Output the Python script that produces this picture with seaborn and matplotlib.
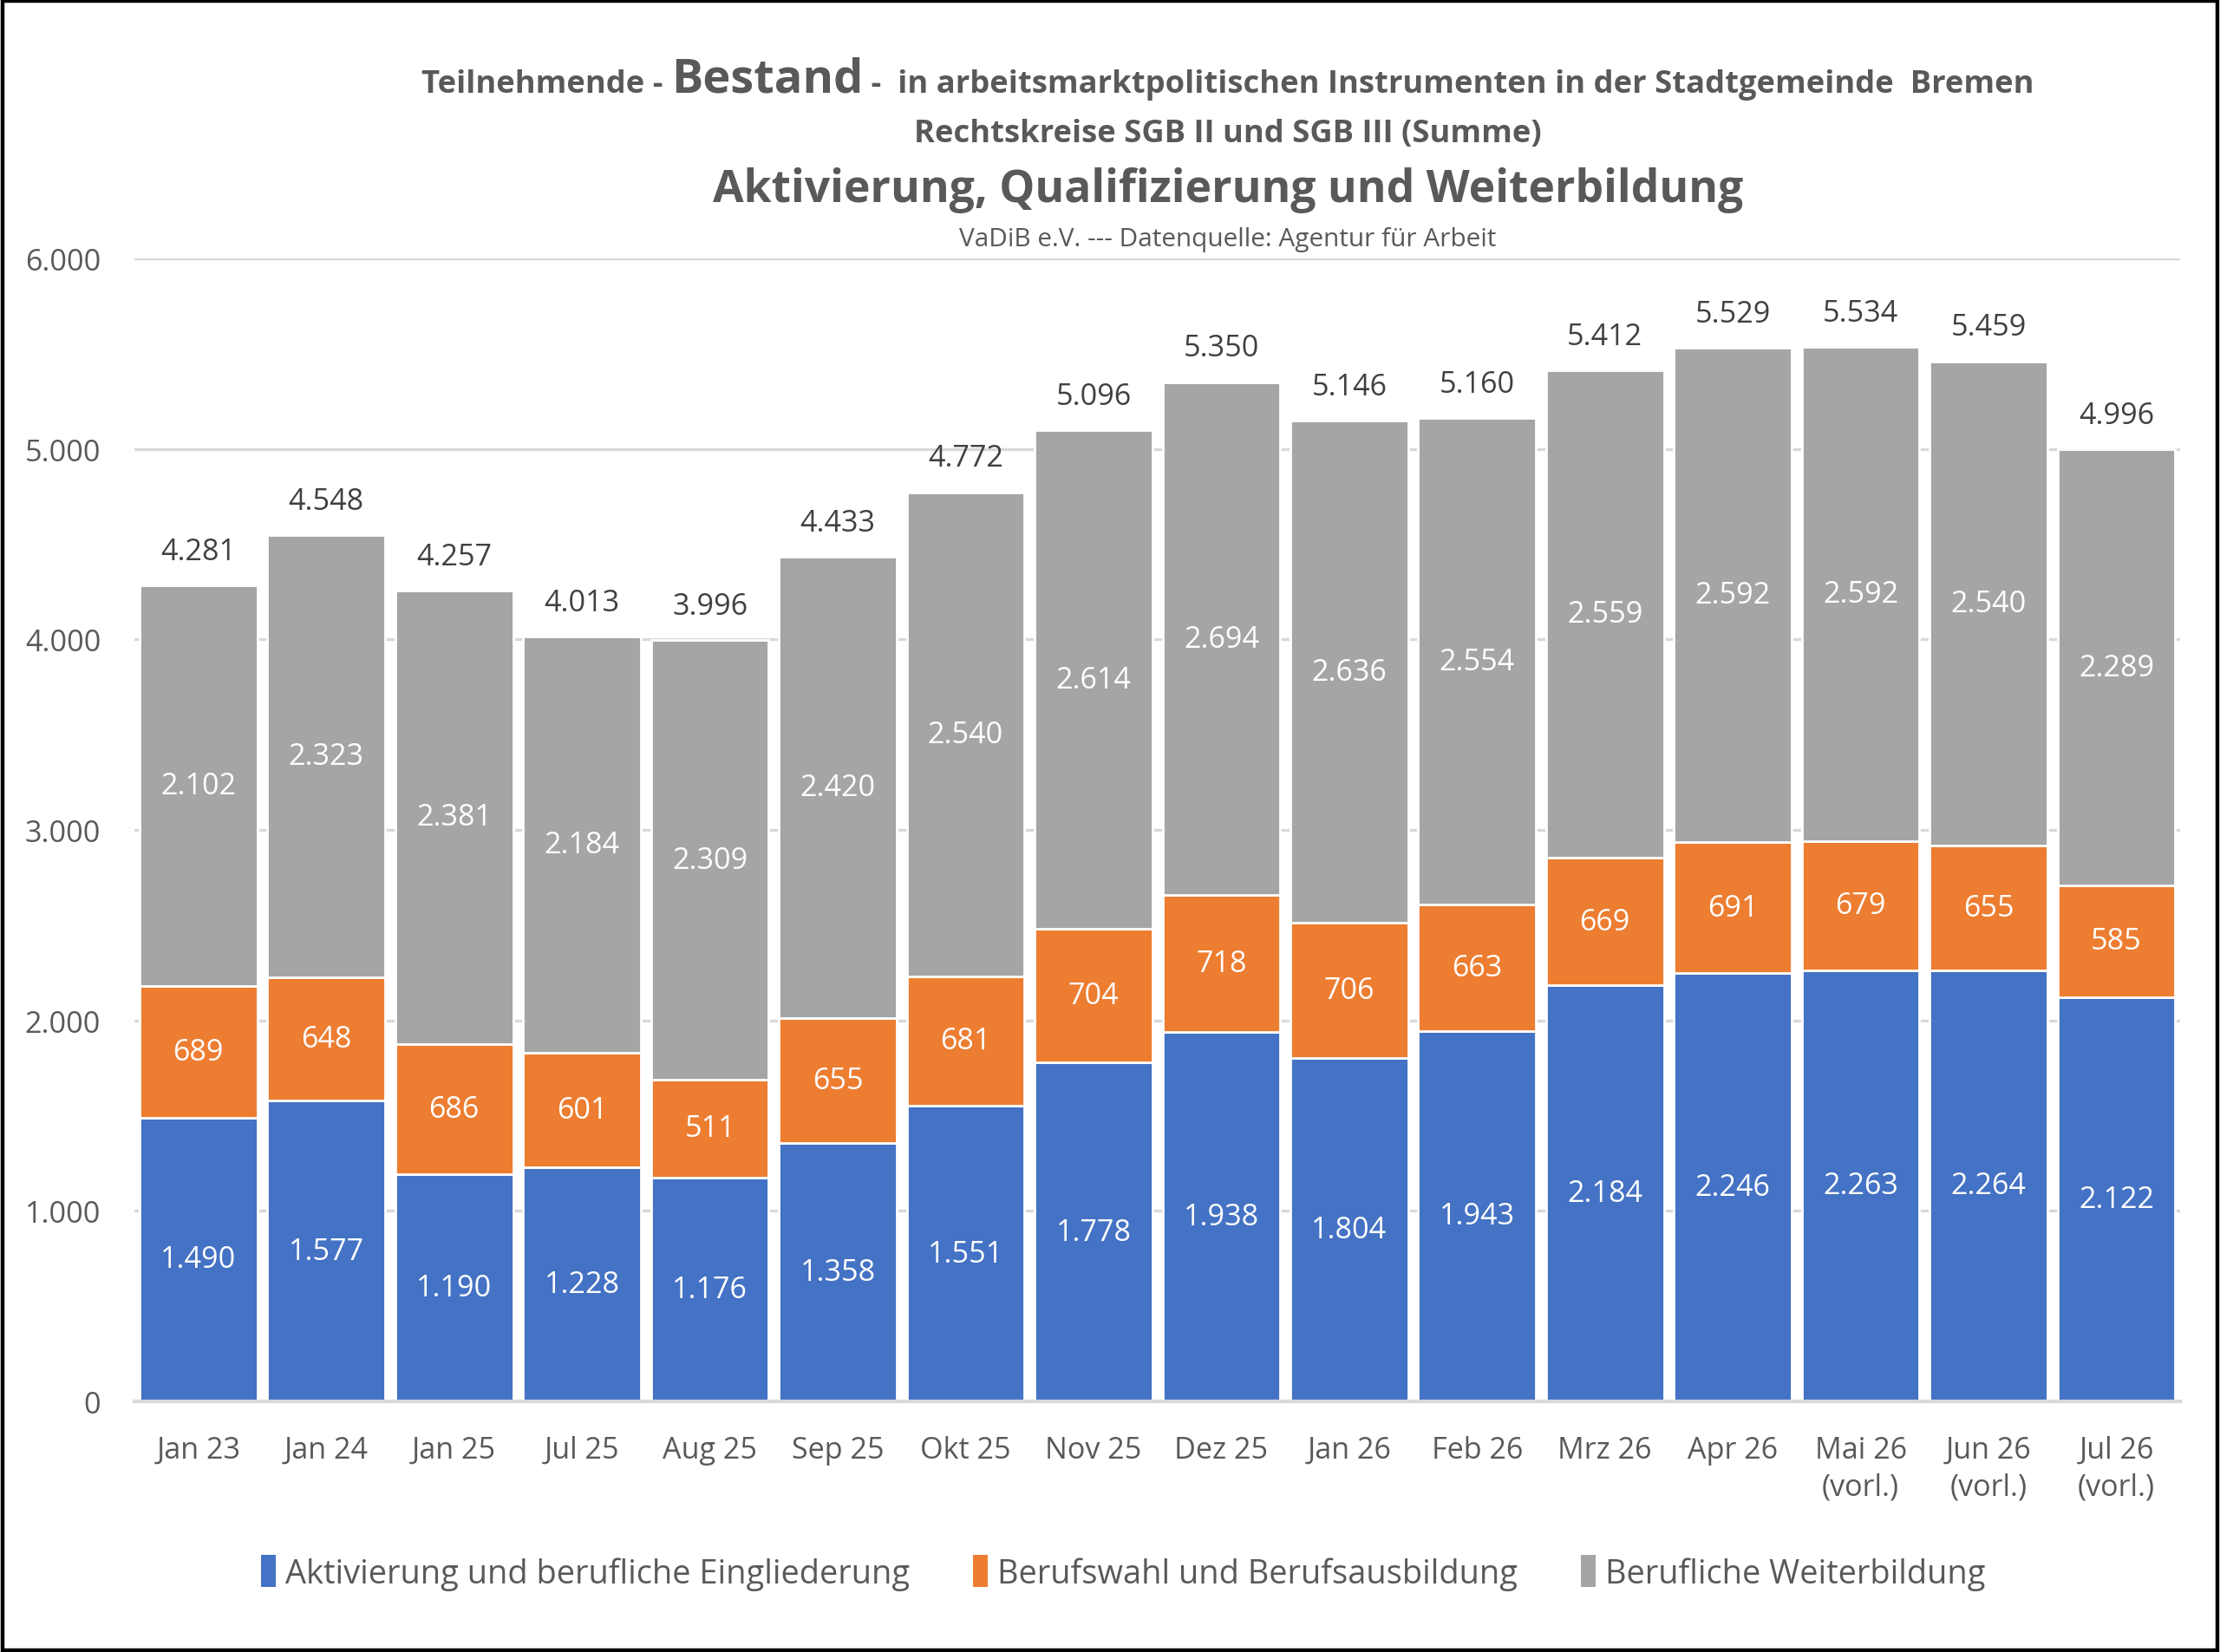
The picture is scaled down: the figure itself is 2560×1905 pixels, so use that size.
import numpy as np
import seaborn as sns
import matplotlib.pyplot as plt
from matplotlib.patches import Patch, Rectangle

months = ['Jan 23', 'Jan 24', 'Jan 25', 'Jul 25', 'Aug 25', 'Sep 25', 'Okt 25', 'Nov 25',
          'Dez 25', 'Jan 26', 'Feb 26', 'Mrz 26', 'Apr 26', 'Mai 26\n(vorl.)',
          'Jun 26\n(vorl.)', 'Jul 26\n(vorl.)']
aktivierung = [1490, 1577, 1190, 1228, 1176, 1358, 1551, 1778, 1938, 1804, 1943, 2184, 2246, 2263, 2264, 2122]
berufswahl = [689, 648, 686, 601, 511, 655, 681, 704, 718, 706, 663, 669, 691, 679, 655, 585]
weiterbildung = [2102, 2323, 2381, 2184, 2309, 2420, 2540, 2614, 2694, 2636, 2554, 2559, 2592, 2592, 2540, 2289]
series_names = ['Aktivierung und berufliche Eingliederung', 'Berufswahl und Berufsausbildung',
                'Berufliche Weiterbildung']
colors = ['#4472C4', '#ED7D31', '#A5A5A5']

sns.set_theme(style='white')
plt.rcParams['font.family'] = ['Open Sans', 'DejaVu Sans']
txt = '#595959'


def de(v):
    return f'{int(round(v)):,}'.replace(',', '.')


fig = plt.figure(figsize=(12.8, 9.53), dpi=200)
ax = fig.add_axes([0.0606, 0.1517, 0.9215, 0.6915])

bottom = np.zeros(len(months))
for vals, col, name in zip([aktivierung, berufswahl, weiterbildung], colors, series_names):
    sns.barplot(x=months, y=vals, bottom=bottom.copy(), color=col, width=0.92,
                saturation=1, ax=ax, label=name)
    bottom += np.array(vals)

for cont in ax.containers:
    ax.bar_label(cont, labels=[de(b.get_height()) for b in cont], label_type='center',
                 color='white', fontsize=12.3)

totals = bottom
for i, t in enumerate(totals):
    ax.annotate(de(t), (i, t), xytext=(0, 8), textcoords='offset points', ha='center',
                va='bottom', fontsize=12.3, color='#404040')

ax.set_ylim(0, 6000)
ax.set_xlim(-0.5, len(months) - 0.5)
ax.set_yticks(range(0, 6001, 1000))
ax.set_yticklabels([de(v) for v in range(0, 6001, 1000)], fontsize=12.3, color=txt)
ax.tick_params(axis='x', labelsize=12.3, labelcolor=txt, pad=14, length=0)
ax.tick_params(axis='y', pad=14, length=0)
for lab in ax.get_xticklabels():
    lab.set_linespacing(1.35)
ax.yaxis.grid(True, color='#D9D9D9', linewidth=1.2)
ax.set_axisbelow(True)
for s in ['top', 'right', 'left']:
    ax.spines[s].set_visible(False)
ax.spines['bottom'].set_color('#D9D9D9')
ax.spines['bottom'].set_linewidth(1.5)
ax.set_xlabel('')
ax.set_ylabel('')
if ax.get_legend():
    ax.get_legend().remove()

handles = [Patch(facecolor=c, edgecolor='none') for c in colors]
fig.legend(handles, series_names, loc='center', bbox_to_anchor=(0.506, 0.048), ncol=3,
           frameon=False, fontsize=13.7, labelcolor=txt, handlelength=0.45,
           handleheight=1.1, handletextpad=0.3, columnspacing=1.9)

# title lines
cx = 0.553
renderer = fig.canvas.get_renderer()
parts = [('Teilnehmende - ', 13.1), ('Bestand', 19.5), (' -  in arbeitsmarktpolitischen Instrumenten in der Stadtgemeinde  Bremen', 13.1)]
objs = [fig.text(0, 0.944, p, fontsize=s, fontweight='bold', color=txt, va='baseline', ha='left')
        for p, s in parts]
widths = [o.get_window_extent(renderer).width for o in objs]
x = cx * fig.bbox.width - sum(widths) / 2
for o, w in zip(objs, widths):
    o.set_x(x / fig.bbox.width)
    x += w

fig.text(cx, 0.914, 'Rechtskreise SGB II und SGB III (Summe)', fontsize=13.1,
         fontweight='bold', color=txt, ha='center', va='baseline')
fig.text(cx, 0.878, 'Aktivierung, Qualifizierung und Weiterbildung', fontsize=18.6,
         fontweight='bold', color=txt, ha='center', va='baseline')
fig.text(cx, 0.851, 'VaDiB e.V. --- Datenquelle: Agentur für Arbeit', fontsize=10.7,
         color=txt, ha='center', va='baseline')

fig.patches.append(Rectangle((0.001, 0.001), 0.998, 0.998, transform=fig.transFigure,
                             fill=False, edgecolor='black', linewidth=1.6))

fig.savefig('out.png', dpi=200, facecolor='white')
plt.close('all')
